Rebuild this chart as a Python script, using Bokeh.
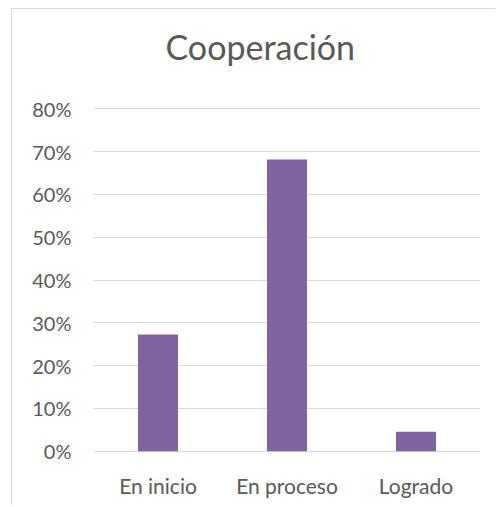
from bokeh.plotting import figure
from bokeh.models import Range1d, FactorRange, NumeralTickFormatter, FixedTicker, Title
from bokeh.embed import file_html
from bokeh.resources import INLINE

categories = ["En inicio", "En proceso", "Logrado"]
values = [0.2727, 0.6818, 0.0455]
y_ticks = [0, 0.1, 0.2, 0.3, 0.4, 0.5, 0.6, 0.7, 0.8]
title_text = "Cooperación"

FONT = "Lato"
TXT = "#595959"

p = figure(
    x_range=FactorRange(*categories, range_padding=0),
    y_range=Range1d(-0.01, 0.81),
    width=486, height=497,
    output_backend="svg", toolbar_location=None,
    min_border_left=81, min_border_right=18,
    min_border_top=95, min_border_bottom=51,
    title=title_text,
)
p.styles = {"border-top": "1px solid #d9d9d9", "border-left": "1px solid #d9d9d9",
            "overflow": "hidden", "clip-path": "inset(0px 2px 0px 0px)",
            "margin-left": "11px", "margin-top": "8px"}
p.outline_line_color = None
p.background_fill_color = "white"
p.border_fill_color = "white"

p.title.align = "left"
p.title.offset = 72
p.title.standoff = 0
p.title.text_font = FONT
p.title.text_font_size = "34px"
p.title.text_font_style = "normal"
p.title.text_color = TXT

# spacer between title and plot area
spacer = Title(text=" ", text_font_size="10px", standoff=25)
p.add_layout(spacer, "above")

p.vbar(x=categories, top=values, width=0.31, color="#8064A2", line_color=None)

p.xgrid.grid_line_color = None
p.ygrid.grid_line_color = "#d9d9d9"
p.ygrid.grid_line_width = 1
p.ygrid.ticker = FixedTicker(ticks=y_ticks)

p.yaxis.ticker = FixedTicker(ticks=y_ticks)
p.yaxis.formatter = NumeralTickFormatter(format="0%")
p.yaxis.axis_line_color = None
p.yaxis.major_tick_line_color = None
p.yaxis.minor_tick_line_color = None
p.yaxis.major_tick_out = 0
p.yaxis.major_tick_in = 0
p.yaxis.major_label_standoff = 22
p.yaxis.major_label_text_font = FONT
p.yaxis.major_label_text_font_size = "20px"
p.yaxis.major_label_text_color = TXT

p.xaxis.axis_line_color = None
p.xaxis.major_tick_line_color = None
p.xaxis.major_tick_out = 0
p.xaxis.major_tick_in = 0
p.xaxis.major_label_standoff = 17
p.xaxis.major_label_text_font = FONT
p.xaxis.major_label_text_font_size = "21px"
p.xaxis.major_label_text_color = TXT

open("out.html", "w").write(file_html(p, INLINE))
